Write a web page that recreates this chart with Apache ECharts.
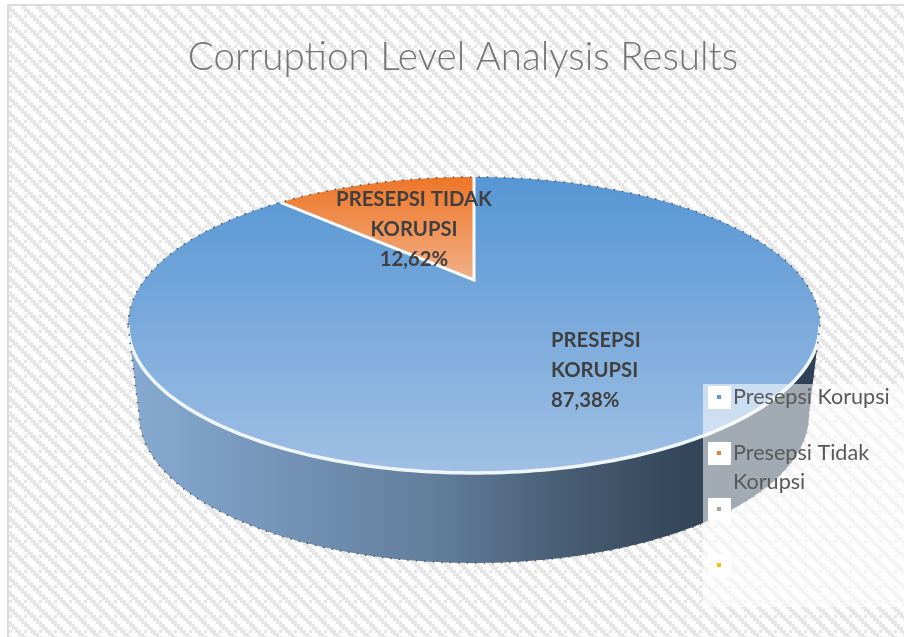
<!DOCTYPE html>
<html>
<head>
<meta charset="utf-8">
<style>
  html, body { margin: 0; padding: 0; background: #fff; }
  #chart { width: 904px; height: 637px; }
</style>
<script src="https://cdn.jsdelivr.net/npm/echarts@6/dist/echarts.min.js"></script>
</head>
<body>
<div id="chart"></div>
<script>
const titleText = 'Corruption Level Analysis Results';
const categories = ['Presepsi Korupsi', 'Presepsi Tidak Korupsi', '', ''];
const values = [87.38, 12.62, 0, 0];
const sliceLabels = ['PRESEPSI\nKORUPSI', 'PRESEPSI TIDAK\nKORUPSI'];
const legendColors = ['#5b9bd5', '#ed7d31', '#a5a5a5', '#ffc000'];

// pie geometry: unit circle seen in perspective, apex is where the slices meet
const apexX = 474, apexY = 280;
const persp = 0.304, scaleX = 329.6, scaleY = 134.3;
const depth = 90, lowerShrink = 0.968;
const total = values.reduce((a, b) => a + b, 0);

function rimPoint(deg) {
  const t = deg * Math.PI / 180;
  const w = 1 + persp * Math.cos(t);
  return [apexX + scaleX * Math.sin(t) / w, apexY - scaleY * Math.cos(t) / w];
}
function lowerPoint(deg) {
  const p = rimPoint(deg);
  return [apexX + (p[0] - apexX) * lowerShrink, p[1] + depth];
}
function arc(fn, from, to) {
  const pts = [];
  const steps = Math.max(2, Math.ceil(Math.abs(to - from)));
  for (let i = 0; i <= steps; i++) pts.push(fn(from + (to - from) * i / steps));
  return pts;
}
const sideDeg = Math.acos(-persp) * 180 / Math.PI;

function band(x0, y0, x1, y1, stops) {
  return new echarts.graphic.LinearGradient(x0, y0, x1, y1,
    stops.map(s => ({ offset: s[0], color: s[1] })), true);
}
const sliceFills = [
  band(0, 177, 0, 473, [[0, '#5696d4'], [1, '#a0bfe4']]),
  band(0, 177, 0, 280, [[0, '#ee7526'], [1, '#f2b088']])
];
const wallFill = band(128, 0, 820, 0, [
  [0, '#88aad2'], [0.2, '#7696ba'], [0.45, '#627d9a'],
  [0.62, '#495f76'], [0.8, '#34465a'], [1, '#2e4054']
]);

function makeTile() {
  const rows = ['11010', '01100', '00110', '00011', '10001'];
  const cell = 3;
  const c = document.createElement('canvas');
  c.width = c.height = rows.length * cell;
  const ctx = c.getContext('2d');
  ctx.fillStyle = '#ffffff';
  ctx.fillRect(0, 0, c.width, c.height);
  ctx.fillStyle = '#e6e6e6';
  rows.forEach((r, y) => r.split('').forEach((v, x) => {
    if (v === '1') ctx.fillRect(x * cell, y * cell, cell, cell);
  }));
  return c;
}

function renderWall() {
  const top = arc(rimPoint, sideDeg, 360 - sideDeg);
  const low = arc(lowerPoint, 360 - sideDeg, sideDeg);
  return {
    type: 'polygon',
    shape: { points: top.concat(low) },
    style: { fill: wallFill }
  };
}

function renderSlice(params, api) {
  const v = api.value(0);
  if (!v) return null;
  let before = 0;
  for (let i = 0; i < params.dataIndex; i++) before += values[i];
  const from = before / total * 360;
  const to = (before + v) / total * 360;
  const pts = [[apexX, apexY]].concat(arc(rimPoint, from, to));
  return {
    type: 'polygon',
    shape: { points: pts },
    style: { fill: sliceFills[params.dataIndex] }
  };
}

function renderEdges() {
  const split = values[0] / total * 360;
  const dots = { stroke: '#55585e', lineWidth: 1.6, lineDash: [1.5, 7], fill: null };
  const lower = arc(lowerPoint, sideDeg, 360 - sideDeg);
  return {
    type: 'group',
    children: [
      { type: 'polyline', shape: { points: arc(rimPoint, sideDeg, 360 - sideDeg) },
        style: { stroke: '#eef6fc', lineWidth: 3.5, fill: null } },
      { type: 'polyline', shape: { points: [rimPoint(split), [apexX, apexY], rimPoint(0)] },
        style: { stroke: '#f7fafd', lineWidth: 3, fill: null } },
      { type: 'polyline', shape: { points: arc(rimPoint, 360 - sideDeg, 360 + sideDeg) },
        style: dots },
      { type: 'polyline', shape: { points: lower.concat([rimPoint(360 - sideDeg)]) },
        style: dots },
      { type: 'polyline', shape: { points: [rimPoint(sideDeg), lowerPoint(sideDeg)] },
        style: dots }
    ]
  };
}

const labelBox = [
  { x: 551, y: 340, align: 'left' },
  { x: 414, y: 199, align: 'center' }
];
function renderLabel(params, api) {
  const box = labelBox[params.dataIndex];
  const pct = String(api.value(0)).replace('.', ',') + '%';
  return {
    type: 'text',
    x: box.x, y: box.y - 15,
    style: {
      text: sliceLabels[params.dataIndex] + '\n' + pct,
      fill: '#404040',
      font: 'bold 20.3px Lato, sans-serif',
      lineHeight: 30,
      align: box.align,
      verticalAlign: 'top'
    }
  };
}

const legendLeft = 703, legendTop = 384, rowStep = 56;
function renderLegend(params) {
  const i = params.dataIndex;
  const y = legendTop + 2 + i * rowStep;
  const kids = [];
  if (i === 0) {
    kids.push({ type: 'rect', shape: { x: legendLeft, y: legendTop, width: 201, height: 223 },
      style: { fill: 'rgba(255,255,255,0.55)' } });
  }
  kids.push({ type: 'rect', shape: { x: legendLeft + 5, y: y, width: 23, height: 23 },
    style: { fill: '#fff' } });
  kids.push({ type: 'rect', shape: { x: legendLeft + 14, y: y + 9, width: 4, height: 4 },
    style: { fill: legendColors[i] } });
  kids.push({ type: 'text', x: legendLeft + 30, y: y - 3,
    style: {
      text: categories[i], fill: '#595959', font: '21.6px Lato, sans-serif',
      lineHeight: 29, width: 165, overflow: 'break', verticalAlign: 'top'
    } });
  return { type: 'group', children: kids };
}

const chart = echarts.init(document.getElementById('chart'), null, { renderer: 'canvas' });
chart.setOption({
  animation: false,
  backgroundColor: '#ffffff',
  title: {
    text: titleText,
    left: 458,
    textAlign: 'center',
    top: 33,
    textStyle: { fontFamily: 'Lato, sans-serif', fontWeight: 300, fontSize: 38.6, color: '#757575' }
  },
  graphic: {
    elements: [{
      type: 'rect', silent: true, z: -10,
      shape: { x: 8, y: 5, width: 910, height: 640 },
      style: { fill: { image: makeTile(), repeat: 'repeat' }, stroke: '#dcdcdc', lineWidth: 2 }
    }]
  },
  series: [
    { type: 'custom', coordinateSystem: 'none', data: values.slice(0, 1), renderItem: renderWall, z: 2, silent: true },
    { type: 'custom', coordinateSystem: 'none', data: values, renderItem: renderSlice, z: 3, silent: true },
    { type: 'custom', coordinateSystem: 'none', data: values.slice(0, 1), renderItem: renderEdges, z: 4, silent: true },
    { type: 'custom', coordinateSystem: 'none', data: values.slice(0, 2), renderItem: renderLabel, z: 5, silent: true },
    { type: 'custom', coordinateSystem: 'none', data: values, renderItem: renderLegend, z: 6, silent: true }
  ]
});
</script>
</body>
</html>
